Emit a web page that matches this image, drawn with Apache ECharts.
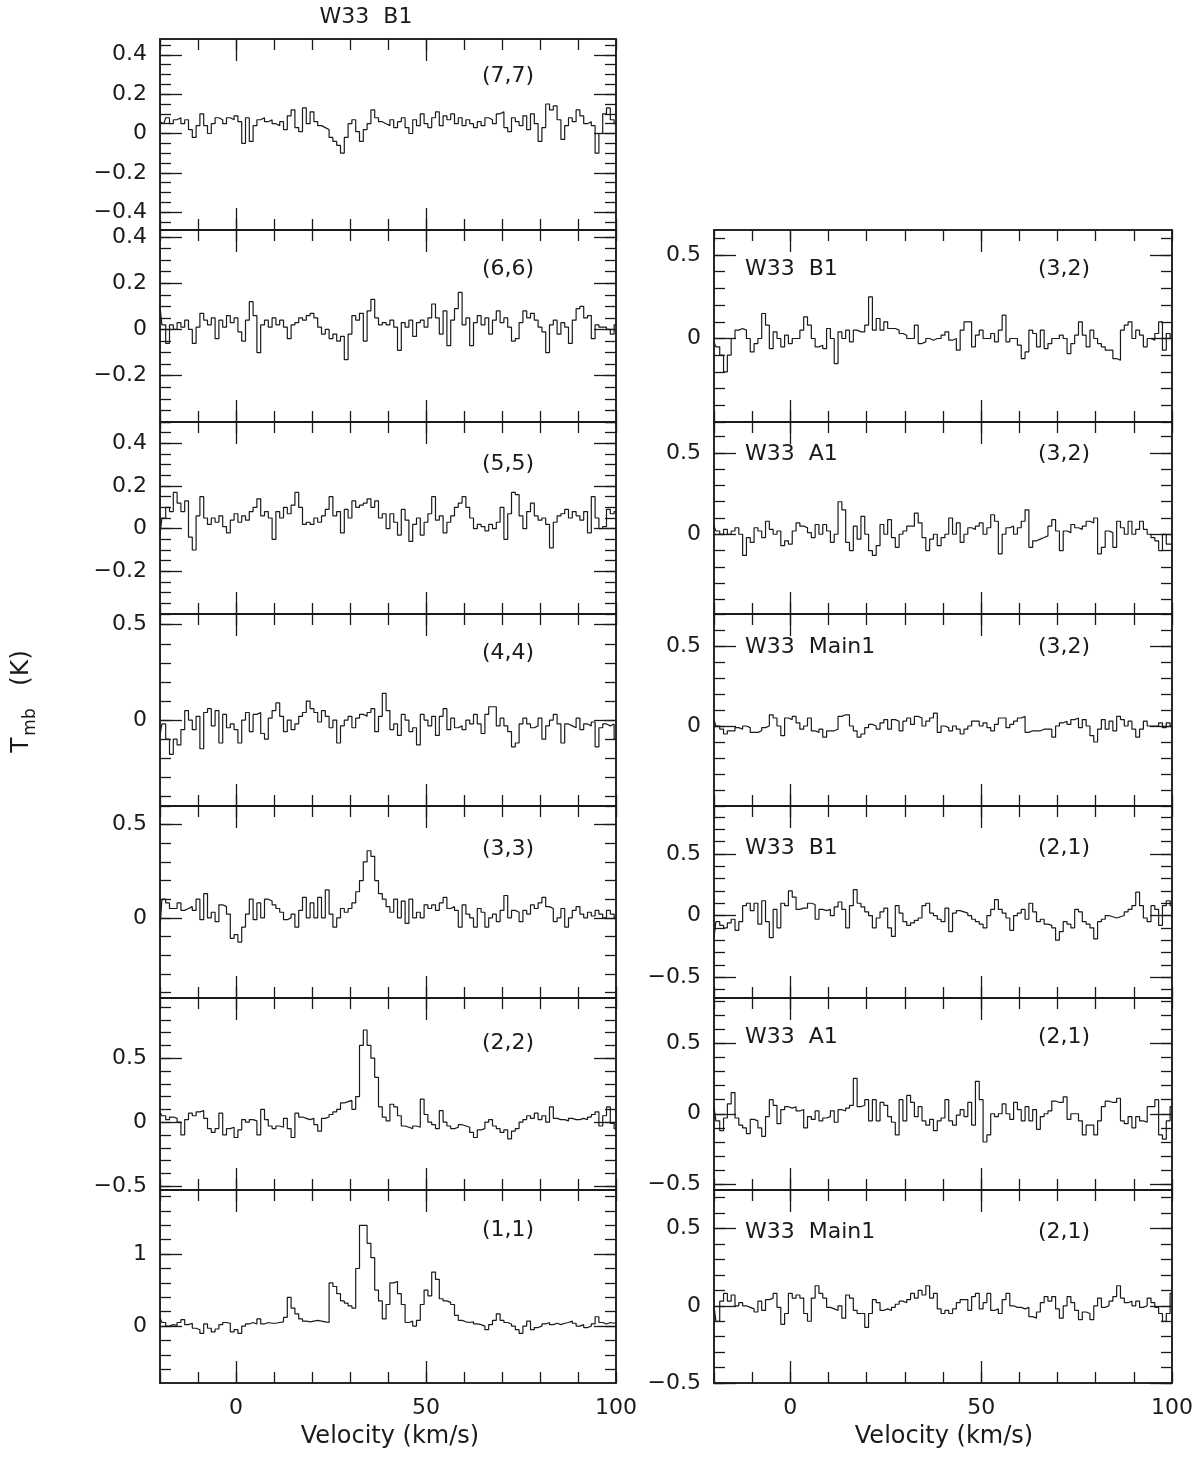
<!DOCTYPE html>
<html lang="en">
<head>
<meta charset="UTF-8">
<title>W33 NH3 spectra</title>
<style>html,body{margin:0;padding:0;background:#fff;}</style>
</head>
<body>
<div id="main" style="width:1200px;height:1458px;"></div>
<script src="https://cdn.jsdelivr.net/npm/echarts@6/dist/echarts.min.js"></script>
<script>
// channel velocities (km/s)
var velocity = [-20,-19,-18,-17,-16,-15,-14,-13,-12,-11,-10,-9,-8,-7,-6,-5,-4,-3,-2,-1,
  0,1,2,3,4,5,6,7,8,9,10,11,12,13,14,15,16,17,18,19,20,21,22,23,24,25,26,27,28,29,
  30,31,32,33,34,35,36,37,38,39,40,41,42,43,44,45,46,47,48,49,50,51,52,53,54,55,56,57,58,59,
  60,61,62,63,64,65,66,67,68,69,70,71,72,73,74,75,76,77,78,79,80,81,82,83,84,85,86,87,88,89,
  90,91,92,93,94,95,96,97,98,99,100];

// W33 B1, left column
var b1_77 = [0.06,0.05,0.08,0.05,0.07,0.08,0.05,0.07,0.02,-0.02,0.04,0.10,0.04,0.00,0.05,0.08,0.07,0.05,0.08,0.07,
  0.09,0.06,-0.05,0.08,-0.04,0.04,0.07,0.08,0.06,0.07,0.05,0.04,0.06,0.02,0.09,0.12,0.03,0.01,0.13,0.05,
  0.11,0.06,0.04,0.03,0.02,-0.02,-0.04,-0.06,-0.10,-0.02,0.05,0.07,0.01,-0.04,0.02,0.05,0.12,0.08,0.06,0.05,
  0.04,0.07,0.03,0.06,0.08,0.03,0.00,0.07,0.04,0.10,0.05,0.03,0.08,0.11,0.04,0.09,0.07,0.10,0.05,0.08,
  0.04,0.07,0.05,0.03,0.06,0.04,0.08,0.07,0.05,0.10,0.11,0.03,0.01,0.08,0.06,0.04,0.09,0.02,0.10,0.05,
  -0.04,0.03,0.15,0.12,0.14,0.07,-0.03,0.04,0.08,0.06,0.12,0.09,0.05,0.06,0.04,-0.10,0.00,0.10,0.13,0.07,
  0.05];
var b1_66 = [0.10,0.02,-0.06,0.02,0.00,0.03,0.01,0.04,0.00,-0.06,0.01,0.07,0.04,0.02,0.05,-0.04,0.04,0.01,0.06,0.03,
  0.05,-0.01,-0.05,0.04,0.12,0.06,-0.10,0.02,0.04,0.01,0.05,0.02,0.04,0.01,-0.04,0.02,0.03,0.05,0.04,0.06,
  0.07,0.05,0.01,-0.02,0.00,-0.04,-0.02,-0.05,-0.03,-0.13,-0.02,0.06,0.04,0.07,-0.05,0.08,0.13,0.05,0.02,0.03,
  0.02,0.04,0.01,-0.09,0.03,0.01,0.04,-0.03,0.03,0.04,0.01,0.05,0.11,0.05,-0.02,0.08,-0.07,0.04,0.09,0.16,
  0.02,0.05,-0.07,0.03,0.06,0.02,0.05,-0.02,0.04,0.08,0.03,0.05,0.01,-0.05,-0.04,0.03,0.08,0.05,0.07,0.04,
  0.01,-0.01,-0.10,0.02,0.04,-0.02,0.03,0.01,-0.06,0.04,0.09,0.10,0.05,0.06,-0.04,0.02,0.01,0.01,0.00,-0.02,
  0.02];
var b1_55 = [-0.03,0.05,0.10,0.08,0.17,0.12,0.08,0.13,-0.04,-0.10,0.06,0.15,0.05,0.02,0.05,0.03,0.06,0.01,-0.02,0.04,
  0.07,0.03,0.06,0.04,0.08,0.10,0.14,0.06,0.08,0.05,-0.05,0.08,0.05,0.10,0.07,0.11,0.17,0.10,0.02,0.03,
  0.02,0.05,0.03,0.06,0.09,0.15,0.06,0.08,-0.02,0.09,0.05,0.13,0.10,0.11,0.12,0.14,0.10,0.13,0.05,0.07,
  0.00,0.07,0.03,-0.03,0.09,0.04,-0.06,0.02,0.05,-0.03,0.03,0.07,0.15,0.04,0.06,-0.02,0.03,0.06,0.10,0.12,
  0.15,0.10,0.05,0.00,0.02,0.01,-0.01,0.02,0.00,0.03,0.10,-0.05,0.07,0.17,0.16,0.06,0.00,0.08,0.12,0.06,
  0.04,0.05,0.02,-0.09,0.03,0.06,0.07,0.09,0.05,0.08,0.06,0.04,0.08,-0.02,0.15,0.05,0.00,0.01,0.09,0.07,
  0.08];
var b1_44 = [-0.08,-0.02,-0.10,-0.18,-0.10,-0.13,-0.05,0.05,0.00,-0.05,0.02,-0.15,0.04,0.06,-0.03,0.05,-0.12,0.03,-0.04,-0.02,
  -0.05,-0.12,0.00,0.04,-0.06,0.03,0.04,-0.07,-0.10,0.01,0.05,0.09,0.02,-0.06,0.00,-0.05,-0.02,0.02,0.04,0.10,
  0.06,0.04,-0.01,0.05,0.02,-0.04,0.00,-0.12,-0.03,0.00,0.02,-0.04,0.01,0.03,0.02,0.04,0.06,-0.06,0.02,0.14,
  0.05,-0.05,-0.02,-0.08,0.03,0.00,-0.06,-0.04,-0.13,0.03,0.00,-0.03,0.02,-0.08,0.02,0.06,-0.05,0.01,-0.04,-0.03,
  -0.05,0.00,-0.02,0.03,-0.02,-0.07,0.03,0.07,0.07,-0.03,0.01,-0.03,-0.06,-0.14,-0.12,-0.02,0.01,-0.02,-0.04,-0.03,
  0.01,-0.10,-0.03,0.00,0.03,-0.02,-0.12,-0.02,-0.03,-0.04,0.01,-0.05,-0.02,-0.03,-0.01,-0.14,-0.04,-0.02,-0.03,-0.02,
  -0.10];
var b1_33 = [-0.06,0.10,0.08,0.05,0.05,0.08,0.04,0.05,0.06,0.04,0.10,-0.01,0.13,0.00,0.03,-0.02,0.07,0.06,0.02,-0.11,
  -0.09,-0.13,-0.05,0.02,0.10,-0.01,0.08,0.00,0.10,0.09,0.07,0.05,0.03,-0.01,0.00,0.02,-0.05,0.04,0.11,0.00,
  0.08,0.00,0.11,0.00,0.15,0.02,-0.05,0.00,0.05,0.03,0.05,0.08,0.14,0.20,0.30,0.36,0.33,0.20,0.13,0.10,
  0.06,0.03,0.10,0.00,0.09,-0.03,0.10,0.00,0.03,0.00,0.07,0.05,0.07,0.04,0.08,0.11,0.05,0.06,0.04,-0.05,
  0.07,0.02,0.00,-0.05,0.05,0.03,-0.05,0.00,0.02,-0.02,0.04,0.12,0.00,0.04,0.03,-0.02,0.04,0.02,0.07,0.05,
  0.08,0.11,0.06,0.05,-0.02,0.00,0.05,-0.05,0.00,0.04,0.06,0.02,0.00,0.03,0.01,0.04,0.02,0.00,0.04,0.02,
  0.00];
var b1_22 = [0.08,0.05,0.02,0.04,0.03,0.00,-0.10,0.02,0.07,0.05,0.08,0.09,0.03,-0.05,-0.08,-0.05,0.07,-0.10,-0.05,-0.04,
  -0.12,-0.06,0.02,0.00,0.02,0.01,-0.10,0.10,0.02,-0.03,-0.05,-0.03,-0.04,0.03,-0.05,-0.12,0.07,0.04,0.03,0.02,
  0.03,-0.02,-0.07,0.03,0.04,0.06,0.08,0.10,0.15,0.16,0.17,0.10,0.20,0.60,0.72,0.60,0.50,0.35,0.12,0.04,
  0.01,0.14,0.12,0.05,-0.03,-0.04,-0.05,-0.03,-0.04,0.18,0.06,0.00,-0.02,-0.05,0.09,0.00,-0.03,-0.05,-0.04,-0.02,
  -0.03,-0.04,-0.08,-0.12,-0.06,-0.05,0.00,0.02,-0.03,-0.05,-0.08,-0.06,-0.13,-0.07,-0.05,0.00,0.02,0.05,0.03,0.07,
  0.02,0.05,0.00,0.12,0.03,0.02,0.02,0.01,0.03,0.02,0.02,0.03,0.02,0.04,0.06,0.08,-0.03,0.05,0.12,-0.01,
  -0.05];
var b1_11 = [0.12,0.05,0.00,0.02,0.01,0.05,0.09,0.02,0.04,-0.03,-0.05,-0.10,0.03,-0.03,-0.08,-0.04,0.02,0.05,0.04,-0.08,
  -0.05,-0.10,0.00,0.03,0.05,0.03,0.10,0.03,0.05,0.04,0.04,0.05,0.06,0.12,0.40,0.25,0.17,0.10,0.07,0.06,
  0.07,0.08,0.07,0.06,0.05,0.60,0.55,0.45,0.35,0.32,0.28,0.25,0.80,1.40,1.40,1.15,0.95,0.50,0.35,0.10,
  0.30,0.60,0.62,0.45,0.30,0.05,0.07,0.00,0.08,0.30,0.50,0.42,0.75,0.65,0.38,0.35,0.33,0.30,0.15,0.08,
  0.06,0.05,0.06,0.03,0.02,0.00,-0.05,0.02,0.08,0.17,0.08,0.05,0.03,0.00,-0.05,-0.10,0.00,0.07,-0.05,-0.02,
  0.00,0.03,0.05,0.02,0.04,0.02,0.04,0.05,0.07,0.04,0.00,0.02,-0.02,0.00,0.03,0.13,0.05,0.03,0.05,0.04,
  0.05];

// right column: (3,2) and (2,1) lines of three sources
var b1_32 = [-0.02,-0.05,-0.10,-0.20,-0.10,0.00,0.05,0.06,0.05,0.00,-0.08,-0.03,0.00,0.15,0.08,-0.06,0.04,0.00,-0.05,0.02,
  -0.03,0.00,0.00,0.05,0.13,0.08,0.00,-0.05,-0.04,-0.06,0.06,0.00,-0.15,0.04,0.00,0.05,-0.02,0.05,0.04,0.04,
  0.08,0.25,0.05,0.12,0.05,0.10,0.06,0.06,0.05,0.03,0.02,0.00,0.00,0.08,-0.03,-0.02,0.00,-0.01,0.00,0.00,
  0.02,0.04,-0.01,0.00,-0.07,0.05,0.10,0.10,-0.05,0.02,0.05,0.00,0.00,0.03,-0.02,0.05,0.14,-0.02,0.00,0.00,
  -0.04,-0.12,-0.08,0.05,0.03,-0.05,0.05,-0.06,-0.03,0.00,0.00,0.02,0.00,-0.09,-0.03,0.02,0.10,0.02,-0.05,0.05,
  0.00,-0.03,-0.05,-0.07,-0.07,-0.12,-0.13,0.05,0.08,0.10,0.00,0.05,0.02,-0.05,0.00,-0.01,0.03,0.10,-0.07,0.03,
  0.00];
var a1_32 = [0.05,0.02,0.00,0.03,0.00,0.02,0.04,0.00,-0.13,-0.02,-0.05,0.04,0.02,-0.02,0.08,0.03,0.00,0.02,-0.07,-0.04,
  -0.06,0.02,0.07,0.05,0.04,0.01,-0.02,0.06,0.00,0.06,0.02,-0.05,0.00,0.20,0.15,-0.05,-0.10,0.05,-0.03,0.11,
  0.00,-0.10,-0.13,-0.07,0.06,0.00,0.09,-0.02,-0.08,0.00,0.02,0.05,0.05,0.13,0.07,-0.02,-0.10,-0.03,0.00,-0.07,
  -0.02,0.00,0.10,0.00,0.07,-0.05,0.00,0.04,0.03,0.05,0.07,0.00,0.04,0.12,0.08,-0.12,0.00,0.04,0.05,0.00,
  0.04,0.08,0.15,-0.08,-0.04,-0.03,-0.02,-0.01,0.05,0.09,0.02,-0.10,0.02,0.01,0.06,0.04,0.03,0.05,0.08,0.07,
  0.10,-0.12,-0.08,0.02,0.01,-0.08,0.08,0.04,0.00,0.08,0.00,0.03,0.08,0.03,0.00,-0.02,-0.04,-0.10,0.00,-0.06,
  -0.06];
var main1_32 = [0.04,0.00,-0.02,-0.05,-0.03,-0.03,-0.01,-0.02,0.00,-0.01,-0.04,-0.04,-0.03,-0.01,0.00,0.07,0.05,0.00,-0.06,0.05,
  0.04,0.06,0.02,-0.02,0.00,0.05,-0.03,-0.04,-0.02,-0.07,-0.03,-0.03,-0.02,0.06,0.07,0.07,0.00,-0.03,-0.07,-0.05,
  -0.01,0.01,0.00,-0.02,0.02,0.04,-0.02,0.04,0.03,-0.03,0.03,0.05,0.01,0.06,0.05,0.00,0.03,0.05,0.08,-0.04,
  0.00,-0.01,-0.03,0.00,-0.02,-0.05,-0.02,0.00,0.03,0.03,0.00,0.02,-0.01,-0.03,0.01,0.05,0.05,-0.01,0.01,0.03,
  0.05,0.06,-0.04,-0.03,-0.03,-0.03,-0.02,-0.02,-0.02,-0.07,0.00,0.02,0.03,0.01,0.04,0.05,-0.01,0.04,0.00,-0.06,
  -0.10,-0.02,0.04,-0.02,0.03,-0.03,0.06,0.04,0.00,0.03,-0.02,-0.07,-0.02,0.03,0.00,0.00,0.00,0.02,-0.01,0.02,
  0.00];
var b1_21 = [-0.18,-0.05,-0.08,-0.10,-0.06,-0.03,-0.12,-0.05,0.08,0.10,0.04,0.10,-0.07,0.12,-0.05,-0.18,0.05,-0.10,0.10,0.08,
  0.20,0.15,0.05,0.06,0.06,0.10,0.09,-0.03,0.05,0.04,0.05,0.00,0.07,0.11,0.05,-0.10,0.08,0.21,0.10,0.07,
  0.03,0.00,-0.10,-0.02,0.03,0.06,-0.10,-0.17,0.08,0.02,-0.05,-0.08,-0.06,-0.04,-0.02,0.08,0.10,0.02,0.00,-0.03,
  -0.05,0.06,-0.13,0.02,0.04,0.03,0.02,0.00,-0.03,-0.05,-0.07,-0.10,0.00,0.05,0.13,0.05,0.02,-0.02,-0.12,0.00,
  0.02,0.05,-0.03,0.10,0.03,-0.05,-0.03,-0.07,-0.08,-0.10,-0.20,-0.13,-0.05,-0.07,-0.10,0.05,0.03,-0.05,-0.07,-0.10,
  -0.19,-0.05,-0.03,0.00,-0.01,-0.02,-0.01,0.00,0.03,0.05,0.08,0.19,0.08,-0.02,-0.05,0.08,0.05,-0.08,0.08,0.12,
  0.08];
var a1_21 = [0.05,-0.05,-0.12,-0.03,0.07,0.15,-0.03,-0.08,-0.10,-0.14,-0.04,-0.05,-0.10,-0.16,-0.02,0.10,0.06,-0.07,0.03,0.05,
  0.04,0.05,0.02,0.03,-0.10,-0.02,-0.04,0.02,-0.05,-0.03,-0.02,0.02,-0.06,0.03,0.02,0.04,0.06,0.25,0.05,0.06,
  0.10,-0.05,0.10,-0.05,0.08,0.06,-0.02,-0.06,-0.15,0.10,-0.05,0.13,0.08,-0.02,0.05,-0.05,-0.08,-0.04,-0.12,-0.05,
  -0.03,0.10,-0.05,-0.08,-0.01,0.03,-0.02,0.08,-0.08,0.23,0.10,-0.20,-0.15,0.00,-0.02,0.00,0.07,0.00,-0.04,0.08,
  0.03,-0.05,0.05,-0.05,0.03,-0.11,-0.02,0.00,0.02,0.09,0.08,0.08,0.12,-0.04,0.00,0.00,-0.05,-0.15,-0.08,-0.08,
  -0.15,-0.05,0.05,0.09,0.08,0.08,0.11,-0.05,-0.07,-0.02,-0.10,-0.02,-0.05,-0.06,0.05,0.05,0.10,-0.15,-0.18,-0.05,
  0.05];
var main1_21 = [0.00,-0.10,0.03,0.08,0.03,0.07,0.00,0.02,0.00,-0.01,-0.02,-0.04,0.03,-0.03,0.04,0.05,0.08,-0.01,-0.12,-0.05,
  0.08,0.05,0.07,0.05,-0.05,-0.10,0.05,0.13,0.08,0.05,-0.01,-0.02,-0.03,0.00,-0.08,0.07,0.05,-0.03,-0.05,-0.05,
  -0.14,-0.05,0.04,0.02,-0.03,-0.02,-0.03,-0.01,0.01,0.03,0.02,0.04,0.08,0.05,0.10,0.07,0.13,0.05,0.08,-0.02,
  -0.05,-0.03,-0.05,-0.02,0.02,0.04,0.04,-0.03,0.06,0.08,-0.02,0.02,0.08,-0.03,-0.02,-0.05,0.04,0.08,0.00,-0.01,
  -0.01,-0.02,-0.01,-0.07,-0.08,-0.04,0.02,0.06,0.03,0.06,-0.02,-0.08,0.00,0.06,0.02,-0.03,-0.09,-0.04,-0.05,-0.09,
  0.00,0.05,-0.01,0.00,0.03,0.06,0.13,0.05,0.02,0.03,0.00,0.03,-0.01,0.00,0.05,0.02,-0.01,-0.05,-0.10,-0.05,
  0.08];

// velocity tick labels
var velLabels = [0, 50, 100];
var velLong = [0, 50];

var INK = '#1a1a1a';
var FONT = 'DejaVu Sans';

var L = {left: 160, width: 456};
var R = {left: 714, width: 458};

var panels = [
  {col: L, top: 39,   height: 191, data: b1_77, min: -0.49, max: 0.48, minor: 0.05, labels: [-0.4,-0.2,0,0.2,0.4], tag: '(7,7)', tagY: 76},
  {col: L, top: 230,  height: 192, data: b1_66, min: -0.40, max: 0.43, minor: 0.05, labels: [-0.2,0,0.2,0.4], tag: '(6,6)', tagY: 269},
  {col: L, top: 422,  height: 192, data: b1_55, min: -0.40, max: 0.50, minor: 0.05, labels: [-0.2,0,0.2,0.4], tag: '(5,5)', tagY: 464},
  {col: L, top: 614,  height: 192, data: b1_44, min: -0.45, max: 0.556, minor: 0.1, labels: [0,0.5], tag: '(4,4)', tagY: 653},
  {col: L, top: 806,  height: 192, data: b1_33, min: -0.43, max: 0.60, minor: 0.1, labels: [0,0.5], tag: '(3,3)', tagY: 849},
  {col: L, top: 998,  height: 192, data: b1_22, min: -0.53, max: 0.97, minor: 0.1, labels: [-0.5,0,0.5], tag: '(2,2)', tagY: 1043},
  {col: L, top: 1190, height: 193, data: b1_11, min: -0.79, max: 1.89, minor: 0.2, labels: [0,1], tag: '(1,1)', tagY: 1230, last: true},
  {col: R, top: 230,  height: 192, data: b1_32, min: -0.50, max: 0.65, minor: 0.1, labels: [0,0.5], tag: '(3,2)', src: 'W33  B1', tagY: 269},
  {col: R, top: 422,  height: 192, data: a1_32, min: -0.49, max: 0.69, minor: 0.1, labels: [0,0.5], tag: '(3,2)', src: 'W33  A1', tagY: 454},
  {col: R, top: 614,  height: 192, data: main1_32, min: -0.50, max: 0.70, minor: 0.1, labels: [0,0.5], tag: '(3,2)', src: 'W33  Main1', tagY: 647},
  {col: R, top: 806,  height: 192, data: b1_21, min: -0.67, max: 0.89, minor: 0.1, labels: [-0.5,0,0.5], tag: '(2,1)', src: 'W33  B1', tagY: 848},
  {col: R, top: 998,  height: 192, data: a1_21, min: -0.54, max: 0.82, minor: 0.1, labels: [-0.5,0,0.5], tag: '(2,1)', src: 'W33  A1', tagY: 1037},
  {col: R, top: 1190, height: 193, data: main1_21, min: -0.50, max: 0.75, minor: 0.1, labels: [-0.5,0,0.5], tag: '(2,1)', src: 'W33  Main1', tagY: 1232, last: true}
];

function minorTicks(min, max, step) {
  var out = [];
  for (var k = Math.ceil(min / step - 1e-9); k * step <= max + 1e-9; k++) {
    out.push(Math.round(k * step * 1000) / 1000);
  }
  return out;
}

function fmt(v) {
  if (Math.abs(v) < 1e-9) return '0';
  return v < 0 ? '\u2212' + String(Math.abs(v)) : String(v);
}

var myChart = echarts.init(document.getElementById('main'));

var grids = [], xAxes = [], yAxes = [], series = [], graphics = [];
// box edges stay on the frame, never on the zero line
var axisLine = {show: true, onZero: false, lineStyle: {color: INK, width: 1.5}};
var tickLine = {color: INK, width: 1.3};

panels.forEach(function (p, i) {
  grids.push({left: p.col.left, top: p.top, width: p.col.width, height: p.height, outerBoundsMode: 'none', containLabel: false});

  ['bottom', 'top'].forEach(function (pos) {
    // short ticks every 10 km/s
    xAxes.push({
      gridIndex: i, type: 'value', position: pos, min: -20, max: 100, interval: 10,
      axisLine: axisLine, axisTick: {inside: true, length: 11, lineStyle: tickLine},
      axisLabel: {show: false}, splitLine: {show: false}
    });
    var withLabels = (pos === 'bottom' && p.last);
    xAxes.push({
      gridIndex: i, type: 'value', position: pos, min: -20, max: 100,
      axisLine: axisLine,
      axisTick: {inside: true, length: 22, customValues: velLong, lineStyle: tickLine},
      axisLabel: withLabels ? {show: true, customValues: velLabels, fontSize: 22, fontFamily: FONT, color: INK, margin: 14}
                            : {show: false},
      splitLine: {show: false}
    });
  });

  ['left', 'right'].forEach(function (pos) {
    yAxes.push({
      gridIndex: i, type: 'value', position: pos, min: p.min, max: p.max,
      axisLine: axisLine,
      axisTick: {inside: true, length: 11, customValues: minorTicks(p.min, p.max, p.minor), lineStyle: tickLine},
      axisLabel: {show: false}, splitLine: {show: false}
    });
    yAxes.push({
      gridIndex: i, type: 'value', position: pos, min: p.min, max: p.max,
      axisLine: axisLine,
      axisTick: {inside: true, length: 22, customValues: p.labels, lineStyle: tickLine},
      axisLabel: pos === 'left'
        ? {show: true, customValues: p.labels, formatter: fmt, fontSize: 22, fontFamily: FONT, color: INK, margin: 13}
        : {show: false},
      splitLine: {show: false}
    });
  });

  series.push({
    type: 'line', step: 'middle', xAxisIndex: i * 4, yAxisIndex: i * 4,
    showSymbol: false, symbol: 'none', clip: true, silent: true, animation: false,
    lineStyle: {color: INK, width: 1.2},
    data: velocity.map(function (v, k) { return [v, p.data[k]]; })
  });

  var tagX = p.col === L ? 508 : 1064;
  graphics.push({type: 'text', x: tagX, y: p.tagY,
    style: {text: p.tag, font: '22px "' + FONT + '"', fill: INK, align: 'center', verticalAlign: 'middle'}});
  if (p.src) {
    graphics.push({type: 'text', x: 745, y: p.tagY,
      style: {text: p.src, font: '22px "' + FONT + '"', fill: INK, align: 'left', verticalAlign: 'middle'}});
  }
});

// titles and axis names
graphics.push({type: 'text', x: 366, y: 17,
  style: {text: 'W33  B1', font: '22px "' + FONT + '"', fill: INK, align: 'center', verticalAlign: 'middle'}});
graphics.push({type: 'text', x: 390, y: 1437,
  style: {text: 'Velocity (km/s)', font: '24px "' + FONT + '"', fill: INK, align: 'center', verticalAlign: 'middle'}});
graphics.push({type: 'text', x: 944, y: 1437,
  style: {text: 'Velocity (km/s)', font: '24px "' + FONT + '"', fill: INK, align: 'center', verticalAlign: 'middle'}});
// T_mb (K), rotated
graphics.push({type: 'text', x: 21, y: 745, rotation: Math.PI / 2,
  style: {text: 'T', font: '25px "' + FONT + '"', fill: INK, align: 'center', verticalAlign: 'middle'}});
graphics.push({type: 'text', x: 31, y: 722, rotation: Math.PI / 2,
  style: {text: 'mb', font: '17px "' + FONT + '"', fill: INK, align: 'center', verticalAlign: 'middle'}});
graphics.push({type: 'text', x: 21, y: 668, rotation: Math.PI / 2,
  style: {text: '(K)', font: '25px "' + FONT + '"', fill: INK, align: 'center', verticalAlign: 'middle'}});

var option = {
  backgroundColor: '#ffffff',
  animation: false,
  grid: grids,
  xAxis: xAxes,
  yAxis: yAxes,
  series: series,
  graphic: graphics
};
myChart.setOption(option);
</script>
</body>
</html>
